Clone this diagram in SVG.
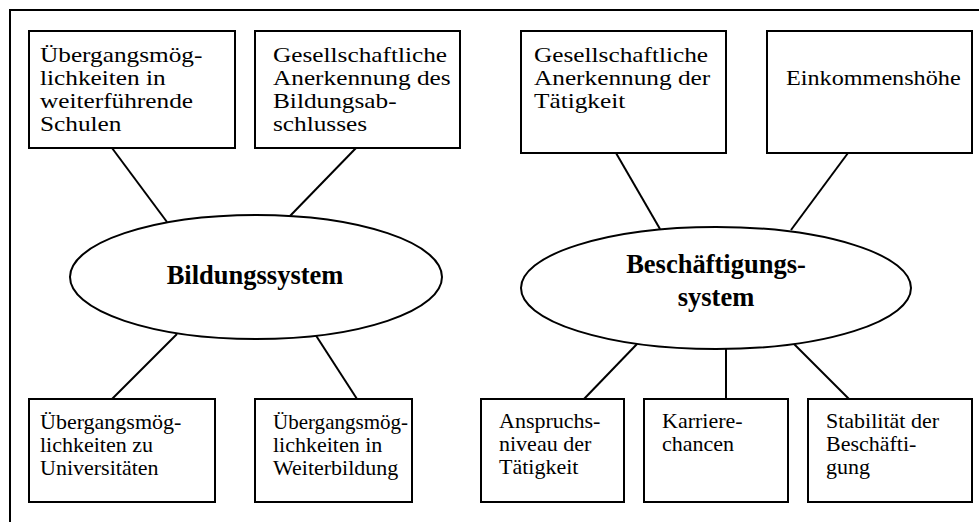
<svg xmlns="http://www.w3.org/2000/svg" width="979" height="522" viewBox="0 0 979 522">
<style>
.box{fill:#fff;stroke:#000;stroke-width:2}
.ell{fill:#fff;stroke:#000;stroke-width:2}
.ln{stroke:#000;stroke-width:2;fill:none}
.t{font-family:"Liberation Serif","Times New Roman",serif;font-size:22px;fill:#000}
.b{font-family:"Liberation Serif","Times New Roman",serif;font-size:26.5px;font-weight:bold;fill:#000;text-anchor:middle}
</style>
<rect width="979" height="522" fill="#fff"/>
<path class="ln" d="M10,522 V10 H979"/>
<g id="connectors">
<line class="ln" x1="112" y1="148" x2="167" y2="222"/>
<line class="ln" x1="356" y1="148" x2="290" y2="216"/>
<line class="ln" x1="177" y1="334" x2="112" y2="399"/>
<line class="ln" x1="315" y1="334" x2="357" y2="399"/>
<line class="ln" x1="616" y1="153" x2="660" y2="229"/>
<line class="ln" x1="848" y1="153" x2="791" y2="230"/>
<line class="ln" x1="637" y1="344" x2="584" y2="399"/>
<line class="ln" x1="726" y1="348" x2="726" y2="399"/>
<line class="ln" x1="794" y1="344" x2="849" y2="399"/>
</g>
<g id="bildungssystem">
<ellipse class="ell" cx="256" cy="277" rx="186" ry="62"/>
<text class="b" x="255" y="284">Bildungssystem</text>
</g>
<g id="beschaeftigungssystem">
<ellipse class="ell" cx="716" cy="288" rx="195" ry="61"/>
<text class="b" x="716" y="273">Beschäftigungs-</text>
<text class="b" x="716" y="306">system</text>
</g>
<g id="b1">
<rect class="box" x="29" y="31" width="206" height="117"/>
<g transform="translate(40,0) scale(1.15,1)">
<text class="t" x="0" y="62">Übergangsmög-</text>
<text class="t" x="0" y="85">lichkeiten in</text>
<text class="t" x="0" y="108">weiterführende</text>
<text class="t" x="0" y="131">Schulen</text>
</g>
</g>
<g id="b2">
<rect class="box" x="255" y="31" width="205" height="117"/>
<g transform="translate(273,0) scale(1.15,1)">
<text class="t" x="0" y="62">Gesellschaftliche</text>
<text class="t" x="0" y="85">Anerkennung des</text>
<text class="t" x="0" y="108">Bildungsab-</text>
<text class="t" x="0" y="131">schlusses</text>
</g>
</g>
<g id="b3">
<rect class="box" x="521" y="31" width="205" height="122"/>
<g transform="translate(534,0) scale(1.15,1)">
<text class="t" x="0" y="62">Gesellschaftliche</text>
<text class="t" x="0" y="85">Anerkennung der</text>
<text class="t" x="0" y="108">Tätigkeit</text>
</g>
</g>
<g id="b4">
<rect class="box" x="767" y="31" width="205" height="122"/>
<g transform="translate(786,0) scale(1.1,1)">
<text class="t" x="0" y="85">Einkommenshöhe</text>
</g>
</g>
<g id="b5">
<rect class="box" x="29" y="399" width="186" height="103"/>
<text class="t" x="40" y="429">Übergangsmög-</text>
<text class="t" x="40" y="452">lichkeiten zu</text>
<text class="t" x="40" y="475">Universitäten</text>
</g>
<g id="b6">
<rect class="box" x="255" y="399" width="157" height="103"/>
<text class="t" x="273" y="429" textLength="135" lengthAdjust="spacingAndGlyphs">Übergangsmög-</text>
<text class="t" x="273" y="452">lichkeiten in</text>
<text class="t" x="273" y="475">Weiterbildung</text>
</g>
<g id="b7">
<rect class="box" x="481" y="399" width="143" height="103"/>
<text class="t" x="499" y="428">Anspruchs-</text>
<text class="t" x="499" y="451">niveau der</text>
<text class="t" x="499" y="474">Tätigkeit</text>
</g>
<g id="b8">
<rect class="box" x="644" y="399" width="144" height="103"/>
<text class="t" x="662" y="428">Karriere-</text>
<text class="t" x="662" y="451">chancen</text>
</g>
<g id="b9">
<rect class="box" x="808" y="399" width="164" height="103"/>
<text class="t" x="826" y="428">Stabilität der</text>
<text class="t" x="826" y="451">Beschäfti-</text>
<text class="t" x="826" y="474">gung</text>
</g>
</svg>
